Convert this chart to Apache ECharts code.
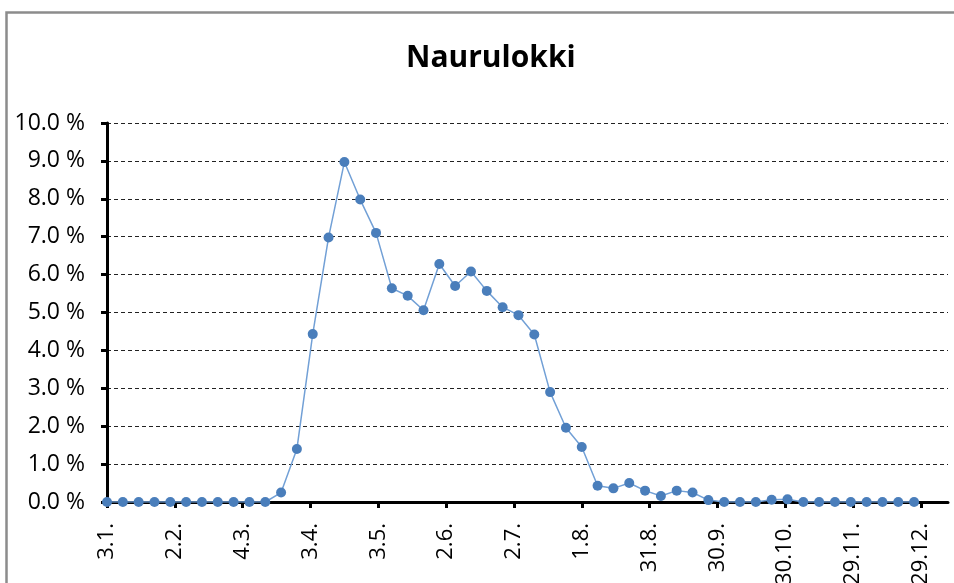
<!DOCTYPE html>
<html>
<head>
<meta charset="utf-8">
<script src="https://cdn.jsdelivr.net/npm/echarts@6/dist/echarts.min.js"></script>
<style>html,body{margin:0;padding:0;background:#fff}#c{width:954px;height:583px}</style>
</head>
<body>
<div id="c"></div>
<script>
// Weekly observation dates (d.m.)
const dates = ['3.1.','10.1.','17.1.','24.1.','31.1.','7.2.','14.2.','21.2.','28.2.','7.3.','14.3.','21.3.','28.3.',
  '4.4.','11.4.','18.4.','25.4.','2.5.','9.5.','16.5.','23.5.','30.5.','6.6.','13.6.','20.6.','27.6.',
  '4.7.','11.7.','18.7.','25.7.','1.8.','8.8.','15.8.','22.8.','29.8.','5.9.','12.9.','19.9.','26.9.',
  '3.10.','10.10.','17.10.','24.10.','31.10.','7.11.','14.11.','21.11.','28.11.','5.12.','12.12.','19.12.','26.12.'];
// Share of observations (%)
const values = [0,0,0,0,0,0,0,0,0,0,0,0.25,1.4,
  4.43,6.98,8.97,7.98,7.1,5.64,5.44,5.06,6.28,5.7,6.08,5.57,5.14,
  4.93,4.42,2.9,1.96,1.45,0.43,0.36,0.5,0.3,0.16,0.3,0.25,0.05,
  0,0,0,0.06,0.07,0,0,0,0,0,0,0,0];
// X axis tick labels
const tickLabels = ['3.1.','2.2.','4.3.','3.4.','3.5.','2.6.','2.7.','1.8.','31.8.','30.9.','30.10.','29.11.','29.12.'];
const yTicks = [0,1,2,3,4,5,6,7,8,9,10];

function dayOf(s){
  const p = s.split('.');
  const t = Date.UTC(2011, +p[1]-1, +p[0]);
  return Math.round((t - Date.UTC(2011,0,3)) / 86400000);
}
const tickDays = tickLabels.map(dayOf);
const labelMap = {};
tickDays.forEach((d,i)=>{labelMap[d]=tickLabels[i];});
const seriesData = dates.map((d,i)=>[dayOf(d), values[i]]);

const font = 'Open Sans';
const chart = echarts.init(document.getElementById('c'));
chart.setOption({
  animation:false,
  backgroundColor:'#fff',
  graphic:[{type:'rect',left:4,top:10,shape:{width:1000,height:700},style:{fill:'none',stroke:'#8c8c8c',lineWidth:2.5},silent:true}],
  title:{text:'Naurulokki',left:401,top:38,textStyle:{fontFamily:font,fontWeight:'bold',fontSize:30,color:'#000'}},
  grid:{left:107,right:6,top:123,bottom:81,containLabel:false,outerBoundsMode:'none'},
  xAxis:{type:'value',min:0,max:372,
    axisLine:{show:true,lineStyle:{color:'#000',width:3}},
    axisTick:{show:true,customValues:tickDays,length:6,lineStyle:{color:'#000',width:3}},
    axisLabel:{customValues:tickDays,rotate:90,margin:21,fontFamily:font,fontSize:22,color:'#000',
      formatter:v=>labelMap[v]||''},
    splitLine:{show:false}},
  yAxis:{type:'value',min:0,max:yTicks[yTicks.length-1],interval:1,
    axisLine:{show:true,lineStyle:{color:'#000',width:3}},
    axisTick:{show:true,length:6,lineStyle:{color:'#000',width:3}},
    axisLabel:{margin:22,fontFamily:font,fontSize:23,color:'#000',formatter:v=>v.toFixed(1)+' %'},
    splitLine:{show:true,lineStyle:{color:'#222',width:1,type:[4,3]}}},
  series:[{type:'line',data:seriesData,symbol:'circle',symbolSize:10,
    itemStyle:{color:'#4a7ebb'},lineStyle:{color:'#72a0d6',width:1.5},z:3}]
});
</script>
</body>
</html>
